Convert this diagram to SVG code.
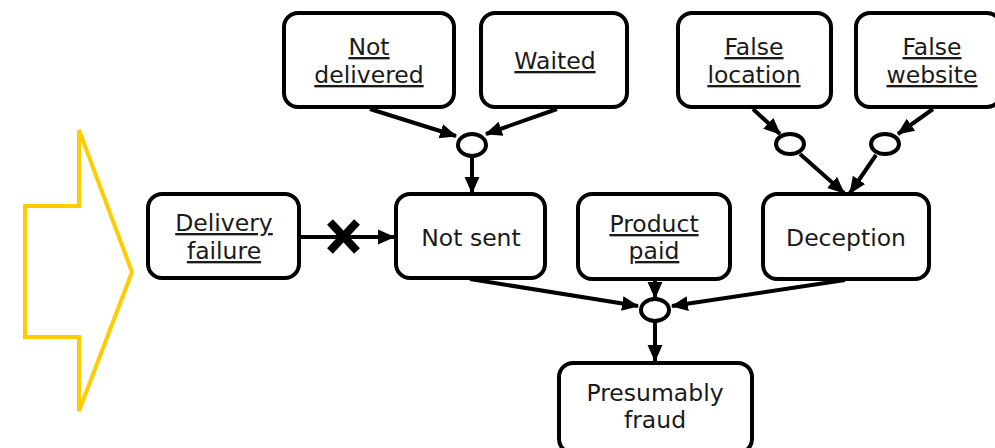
<svg xmlns="http://www.w3.org/2000/svg" width="995" height="448" viewBox="0 0 995 448">
<style>
.node{fill:#fff;stroke:#000;stroke-width:4}
.t{font-family:"DejaVu Sans",sans-serif;font-size:23.5px;fill:#1a1a1a;text-anchor:middle}
.u{text-decoration:underline}
.c{fill:#fff;stroke:#000;stroke-width:4}
.e{fill:none;stroke:#000;stroke-width:4}
</style>
<defs>
<marker id="ah" markerUnits="userSpaceOnUse" markerWidth="17" markerHeight="17" viewBox="0 0 16 16" refX="15" refY="8" orient="auto">
<path d="M0,1 L16,8 L0,15 z" fill="#000"/>
</marker>
</defs>
<polygon points="25,206 79,206 79,130 132,272 79,411 79,337 25,337" fill="none" stroke="#FFCC00" stroke-width="4"/>
<g id="connectors">
<line class="e" x1="370" y1="109" x2="456" y2="136" marker-end="url(#ah)"/>
<line class="e" x1="557" y1="109" x2="486" y2="134" marker-end="url(#ah)"/>
<line class="e" x1="472" y1="157" x2="472" y2="193" marker-end="url(#ah)"/>
<line class="e" x1="753" y1="109" x2="780" y2="134" marker-end="url(#ah)"/>
<line class="e" x1="933" y1="109" x2="898" y2="134" marker-end="url(#ah)"/>
<line class="e" x1="800" y1="154" x2="844" y2="193" marker-end="url(#ah)"/>
<line class="e" x1="876" y1="155" x2="850" y2="193" marker-end="url(#ah)"/>
<line class="e" x1="300" y1="237" x2="394" y2="237" marker-end="url(#ah)"/>
<line class="e" x1="470" y1="279" x2="638" y2="306" marker-end="url(#ah)"/>
<line class="e" x1="655" y1="280" x2="655" y2="298" marker-end="url(#ah)"/>
<line class="e" x1="845" y1="280" x2="672" y2="306" marker-end="url(#ah)"/>
<line class="e" x1="655" y1="322" x2="655" y2="361" marker-end="url(#ah)"/>
<path d="M330,222 L357,251 M357,222 L330,251" stroke="#000" stroke-width="8" fill="none"/>
</g>
<g id="n-notdelivered"><rect class="node" x="284" y="13" width="170" height="94" rx="14"/><text class="t u" x="369" y="55">Not</text><text class="t u" x="369" y="83">delivered</text></g>
<g id="n-waited"><rect class="node" x="481" y="13" width="146" height="94" rx="14"/><text class="t u" x="555" y="69">Waited</text></g>
<g id="n-falselocation"><rect class="node" x="678" y="13" width="153" height="94" rx="14"/><text class="t u" x="754" y="55">False</text><text class="t u" x="754" y="83">location</text></g>
<g id="n-falsewebsite"><rect class="node" x="856" y="13" width="145" height="94" rx="14"/><text class="t u" x="932" y="55">False</text><text class="t u" x="932" y="83">website</text></g>
<g id="g1"><ellipse class="c" cx="472" cy="145" rx="14" ry="11"/></g>
<g id="g2"><ellipse class="c" cx="790" cy="144" rx="14" ry="10"/></g>
<g id="g3"><ellipse class="c" cx="885" cy="144" rx="14" ry="10"/></g>
<g id="n-deliveryfailure"><rect class="node" x="148" y="194" width="151" height="84" rx="14"/><text class="t u" x="224" y="231">Delivery</text><text class="t u" x="224" y="259">failure</text></g>
<g id="n-notsent"><rect class="node" x="396" y="194" width="149" height="84" rx="14"/><text class="t" x="471" y="246">Not sent</text></g>
<g id="n-productpaid"><rect class="node" x="578" y="194" width="152" height="85" rx="14"/><text class="t u" x="654" y="232">Product</text><text class="t u" x="654" y="259">paid</text></g>
<g id="n-deception"><rect class="node" x="763" y="194" width="166" height="85" rx="14"/><text class="t" x="846" y="246">Deception</text></g>
<g id="g4"><ellipse class="c" cx="655" cy="310" rx="14" ry="11"/></g>
<g id="n-presumablyfraud"><rect class="node" x="559" y="363" width="193" height="90" rx="14"/><text class="t" x="655" y="401">Presumably</text><text class="t" x="655" y="428">fraud</text></g>
</svg>
